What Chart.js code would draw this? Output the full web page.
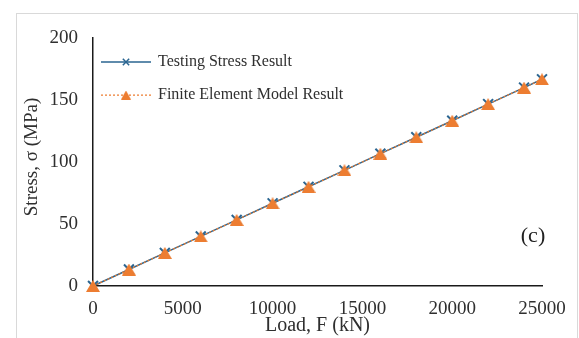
<!DOCTYPE html>
<html>
<head>
<meta charset="utf-8">
<script src="https://cdn.jsdelivr.net/npm/chart.js@4"></script>
<style>
  html, body { margin: 0; padding: 0; background: #fff; }
  #wrap { position: relative; width: 579px; height: 338px; }
</style>
</head>
<body>
<div id="wrap"><canvas id="c" width="579" height="338"></canvas></div>
<script>
// Load steps (kN) and measured / simulated stress (MPa)
const loads = [0, 2000, 4000, 6000, 8000, 10000, 12000, 14000, 16000, 18000, 20000, 22000, 24000, 25000];
const testingStress = [0, 13.3, 26.7, 40, 53.3, 66.7, 80, 93.3, 106.7, 120, 133.3, 146.7, 160, 166.7];
const femStress = [0, 13.3, 26.7, 40, 53.3, 66.7, 80, 93.3, 106.7, 120, 133.3, 146.7, 160, 166.7];
const xTicks = [0, 5000, 10000, 15000, 20000, 25000];
const yTicks = [0, 50, 100, 150, 200];
const seriesNames = ['Testing Stress Result', 'Finite Element Model Result'];
const xTitle = 'Load, F (kN)';
const yTitle = 'Stress, σ (MPa)';
const panelLabel = '(c)';

const BLUE = '#2a6591';
const ORANGE = '#ed7d31';
const TEXT = '#2f2f2f';
const SERIF = '"Liberation Serif", "Times New Roman", serif';

const toPoints = (ys) => loads.map((x, i) => ({ x: x, y: ys[i] }));

// Solid triangle marker whose bounding box is centred on the data point
function makeTriangle(w, h, color) {
  const cv = document.createElement('canvas');
  cv.width = w;
  cv.height = h;
  const g = cv.getContext('2d');
  g.fillStyle = color;
  g.beginPath();
  g.moveTo(w / 2, 0);
  g.lineTo(w, h);
  g.lineTo(0, h);
  g.closePath();
  g.fill();
  return cv;
}
const triangle = makeTriangle(14, 12, ORANGE);
const legendTriangle = makeTriangle(10, 9, ORANGE);

// Frame around the figure, y-axis title, in-plot legend and panel letter
const decor = {
  id: 'decor',
  beforeDraw(chart) {
    const ctx = chart.ctx;
    ctx.save();
    ctx.fillStyle = '#fff';
    ctx.fillRect(0, 0, chart.width, chart.height);
    ctx.strokeStyle = '#d9d9d9';
    ctx.lineWidth = 1;
    ctx.strokeRect(16.5, 13.5, 561, 400);
    ctx.restore();
  },
  afterDraw(chart) {
    const ctx = chart.ctx;
    ctx.save();

    ctx.translate(32, 157);
    ctx.rotate(-Math.PI / 2);
    ctx.fillStyle = TEXT;
    ctx.font = '19px ' + SERIF;
    ctx.textAlign = 'center';
    ctx.textBaseline = 'middle';
    ctx.fillText(yTitle, 0, 0);
    ctx.setTransform(1, 0, 0, 1, 0, 0);

    const rows = [
      { y: 62, ds: 0, marker: 'crossRot', radius: 4.5 },
      { y: 95, ds: 1, marker: legendTriangle, radius: 5 }
    ];
    rows.forEach((r) => {
      const d = chart.data.datasets[r.ds];
      ctx.beginPath();
      ctx.strokeStyle = d.borderColor;
      ctx.lineWidth = d.borderWidth;
      ctx.setLineDash(d.borderDash || []);
      ctx.moveTo(101, r.y);
      ctx.lineTo(151, r.y);
      ctx.stroke();
      ctx.setLineDash([]);
      ctx.fillStyle = d.pointBackgroundColor;
      ctx.strokeStyle = d.pointBorderColor;
      Chart.helpers.drawPoint(ctx, {
        pointStyle: r.marker,
        radius: r.radius,
        borderWidth: d.pointBorderWidth,
        rotation: 0
      }, 126, r.y);
      ctx.fillStyle = TEXT;
      ctx.font = '16px ' + SERIF;
      ctx.textAlign = 'left';
      ctx.textBaseline = 'middle';
      ctx.fillText(d.label, 158, r.y);
    });

    ctx.fillStyle = '#222';
    ctx.font = '22px ' + SERIF;
    ctx.textAlign = 'center';
    ctx.textBaseline = 'middle';
    ctx.fillText(panelLabel, 533, 236);
    ctx.restore();
  }
};

new Chart(document.getElementById('c'), {
  type: 'scatter',
  data: {
    datasets: [
      {
        label: seriesNames[0],
        data: toPoints(testingStress),
        showLine: true,
        clip: false,
        borderColor: BLUE,
        borderWidth: 1.5,
        pointStyle: 'crossRot',
        pointRadius: 7,
        pointBorderWidth: 2,
        pointBorderColor: BLUE,
        pointBackgroundColor: BLUE,
        order: 2
      },
      {
        label: seriesNames[1],
        data: toPoints(femStress),
        showLine: true,
        clip: false,
        borderColor: ORANGE,
        borderWidth: 1.25,
        borderDash: [2, 2],
        pointStyle: triangle,
        pointRadius: 7,
        pointBorderWidth: 1,
        pointBorderColor: ORANGE,
        pointBackgroundColor: ORANGE,
        order: 1
      }
    ]
  },
  options: {
    responsive: false,
    animation: false,
    layout: { padding: { left: 0, right: 37, top: 38, bottom: 0 } },
    plugins: { legend: { display: false }, tooltip: { enabled: false } },
    scales: {
      x: {
        type: 'linear',
        min: 0,
        max: 25000,
        afterBuildTicks: (s) => { s.ticks = xTicks.map((v) => ({ value: v })); },
        afterFit: (s) => { s.height = 52; },
        grid: { display: false, drawTicks: false },
        border: { display: true, color: '#1a1a1a', width: 1.5 },
        ticks: {
          padding: 12,
          color: TEXT,
          font: { family: SERIF, size: 19 },
          maxRotation: 0,
          callback: (v) => String(v)
        },
        title: {
          display: true,
          text: xTitle,
          color: TEXT,
          font: { family: SERIF, size: 20 },
          padding: { top: 0, bottom: 0 }
        }
      },
      y: {
        type: 'linear',
        min: 0,
        max: 200,
        afterBuildTicks: (s) => { s.ticks = yTicks.map((v) => ({ value: v })); },
        afterFit: (s) => { s.width = 93; },
        grid: { display: false, drawTicks: false },
        border: { display: true, color: '#1a1a1a', width: 1.5 },
        ticks: {
          padding: 15,
          color: TEXT,
          font: { family: SERIF, size: 19 },
          callback: (v) => String(v)
        },
        title: { display: false }
      }
    }
  },
  plugins: [decor]
});
</script>
</body>
</html>
